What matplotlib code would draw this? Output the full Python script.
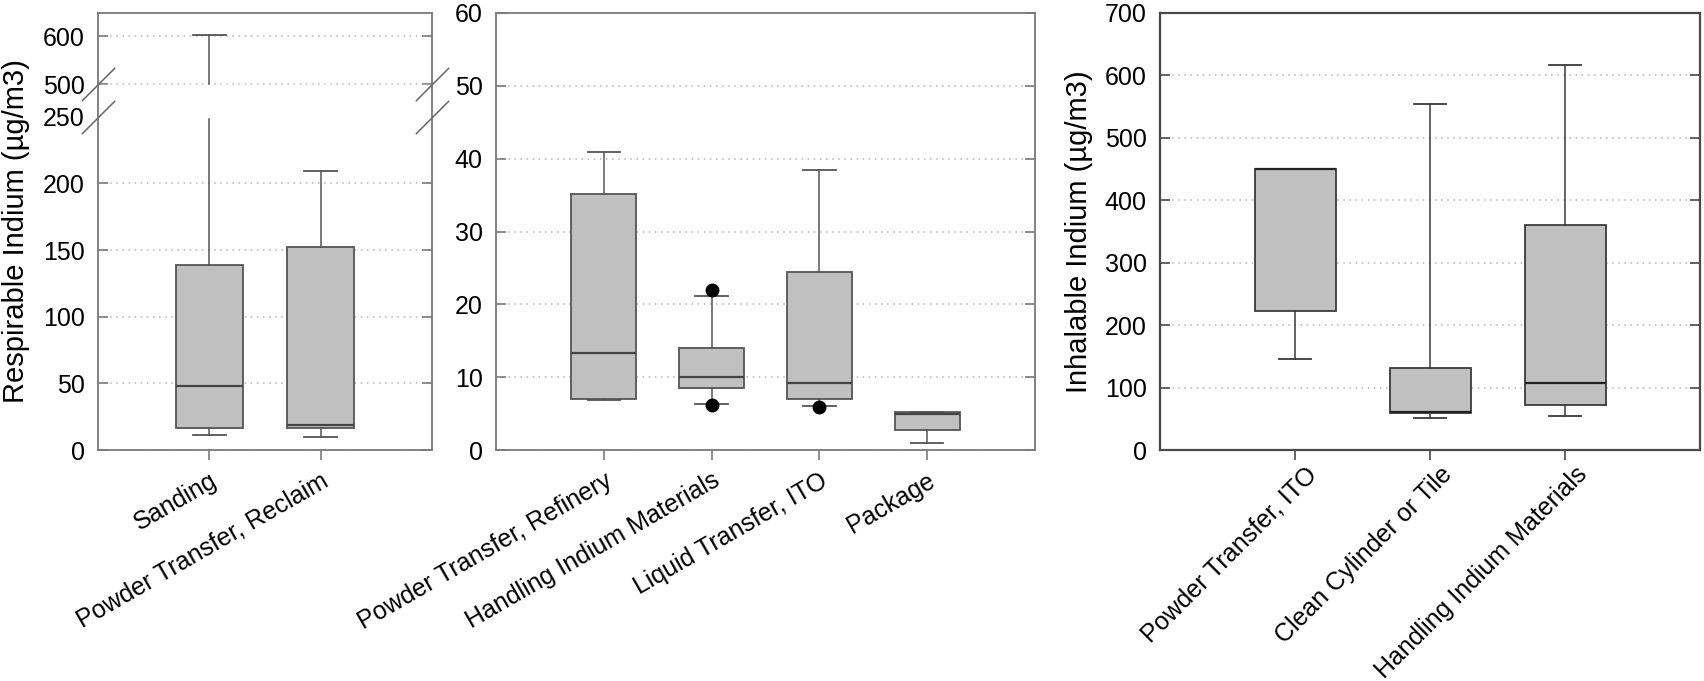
import numpy as np
import matplotlib
matplotlib.use("Agg")
import matplotlib.pyplot as plt
import matplotlib.transforms as mtransforms

plt.rcParams['font.family'] = ['Liberation Sans', 'DejaVu Sans']

# respirable, broken axis panel
resp_a_cats = ['Sanding', 'Powder Transfer, Reclaim']
resp_a_med = [48, 18.5]
resp_a_q1 = [16.5, 16.5]
resp_a_q3 = [139, 152.5]
resp_a_lo = [11.5, 9.5]
resp_a_hi = [603, 209.5]
resp_a_fliers = [[], []]

# respirable, 0-60 panel
resp_b_cats = ['Powder Transfer, Refinery', 'Handling Indium Materials',
               'Liquid Transfer, ITO', 'Package']
resp_b_med = [13.3, 10.0, 9.2, 5.0]
resp_b_q1 = [7.05, 8.5, 7.0, 2.7]
resp_b_q3 = [35.1, 14.0, 24.4, 5.2]
resp_b_lo = [6.8, 6.3, 6.1, 0.9]
resp_b_hi = [40.9, 21.2, 38.4, 5.2]
resp_b_fliers = [[], [22.0, 6.2], [5.9], []]

# inhalable
inh_cats = ['Powder Transfer, ITO', 'Clean Cylinder or Tile', 'Handling Indium Materials']
inh_med = [450, 61, 107]
inh_q1 = [222, 60, 71.5]
inh_q3 = [450, 132, 360]
inh_lo = [146, 52, 54]
inh_hi = [450, 555, 617]
inh_fliers = [[], [], []]

W, H = 1704, 681
fig = plt.figure(figsize=(W / 100, H / 100), dpi=100)

def px_axes(x0, x1, top=13, bottom=450):
    return fig.add_axes([x0 / W, (H - bottom) / H, (x1 - x0) / W, (bottom - top) / H])

def make_stats(cats, med, q1, q3, lo, hi, fl):
    out = []
    for i in range(len(cats)):
        out.append(dict(med=med[i], q1=q1[i], q3=q3[i], whislo=lo[i], whishi=hi[i],
                        fliers=fl[i], label=cats[i]))
    return out

def draw(ax, stats, edge='#555555', medc='#444444', capw=0.3):
    ax.bxp(stats, positions=range(1, len(stats) + 1), widths=0.6, patch_artist=True,
           capwidths=capw, showfliers=True,
           boxprops=dict(facecolor='#c0c0c0', edgecolor=edge, linewidth=1.3),
           medianprops=dict(color=medc, linewidth=1.6),
           whiskerprops=dict(color=edge, linewidth=1.1),
           capprops=dict(color=edge, linewidth=1.3),
           flierprops=dict(marker='o', markerfacecolor='black', markeredgecolor='black',
                           markersize=9))
    ax.set_xlim(0, len(stats) + 1)

def style(ax, spine_c='#7a7a7a', lw=1.3, xpad=13.7):
    for s in ax.spines.values():
        s.set_color(spine_c)
        s.set_linewidth(lw)
    ax.tick_params(axis='y', direction='in', left=True, right=True, length=7,
                   color=spine_c, width=1.2, labelsize=18, pad=9.5)
    ax.tick_params(axis='x', direction='out', length=7, color=spine_c, width=1.2,
                   labelsize=18, pad=xpad)
    ax.yaxis.grid(True, color='#b5b5b5', linestyle=(0, (1, 3)), linewidth=1.1)
    ax.set_axisbelow(True)

def rotate_labels(ax, angle, dx_px):
    off = mtransforms.ScaledTranslation(dx_px / 100, 0, fig.dpi_scale_trans)
    for lab in ax.get_xticklabels():
        lab.set_rotation(angle)
        lab.set_rotation_mode('anchor')
        lab.set_ha('right')
        lab.set_va('center')
        lab.set_transform(lab.get_transform() + off)

# broken scale for the first panel
gap = 24.3
k = 0.3625

def fwd(y):
    y = np.asarray(y, dtype=float)
    return np.where(y <= 250, y,
                    np.where(y <= 500, 250 + (y - 250) * gap / 250,
                             250 + gap + (y - 500) * k))

def inv(t):
    t = np.asarray(t, dtype=float)
    return np.where(t <= 250, t,
                    np.where(t <= 250 + gap, 250 + (t - 250) * 250 / gap,
                             500 + (t - 250 - gap) / k))

ax1 = px_axes(98, 432)
ax1.set_yscale('function', functions=(fwd, inv))
draw(ax1, make_stats(resp_a_cats, resp_a_med, resp_a_q1, resp_a_q3, resp_a_lo, resp_a_hi, resp_a_fliers))
ax1.set_ylim(0, 648)
ax1.set_yticks([0, 50, 100, 150, 200, 250, 500, 600])
ax1.set_yticklabels(['0', '50', '100', '150', '200', '250', '500', '600'])
style(ax1)
ax1.axhspan(251, 499, color='white', zorder=2.5)
ax1.set_ylabel('Respirable Indium (µg/m3)', fontsize=21)
ax1.yaxis.set_label_coords(-0.203, 0.5)
rotate_labels(ax1, 30, 6)
# break marks on both spines
bt = mtransforms.blended_transform_factory(ax1.transAxes, ax1.transData)
ax1.plot([0, 0, 1, 1], [250, 500, 250, 500], transform=bt, linestyle='none',
         marker=[(-1, -1), (1, 1)], markersize=24, markeredgewidth=1.1,
         color='#666666', clip_on=False, zorder=5)

ax2 = px_axes(496, 1035)
draw(ax2, make_stats(resp_b_cats, resp_b_med, resp_b_q1, resp_b_q3, resp_b_lo, resp_b_hi, resp_b_fliers))
ax2.set_ylim(0, 60)
ax2.set_yticks(np.arange(0, 61, 10))
style(ax2)
rotate_labels(ax2, 30, 6)

ax3 = px_axes(1160, 1700)
draw(ax3, make_stats(inh_cats, inh_med, inh_q1, inh_q3, inh_lo, inh_hi, inh_fliers),
     edge='#3a3a3a', medc='#222222', capw=0.24)
ax3.set_ylabel('Inhalable Indium (µg/m3)', fontsize=21)
ax3.set_ylim(0, 700)
ax3.set_yticks(np.arange(0, 701, 100))
style(ax3, spine_c='#4a4a4a', lw=1.6, xpad=8)
ax3.yaxis.set_label_coords(-0.124, 0.5)
rotate_labels(ax3, 45, 18)

fig.savefig('out.png', dpi=100)
